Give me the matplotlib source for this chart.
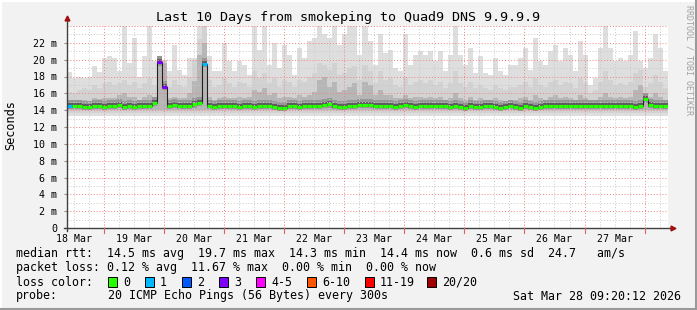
import numpy as np
import matplotlib as m

m.use('Agg')

import matplotlib.pyplot as plt
from matplotlib.patches import Rectangle
from matplotlib.lines import Line2D

# 2-hour blocks, 18 Mar 09:20 -> 28 Mar 09:20 (values in ms)
start_day = 9.0 / 24 + 20.0 / 1440
block_days = 2.0 / 24

smoke_top = [
  18.5, 17.8, 17.9, 17.8, 18.0, 19.2, 18.5, 20.2, 20.4, 20.2, 18.6, 24.5,
  19.6, 22.6, 18.0, 20.4, 24.5, 19.8, 19.8, 20.0, 18.6, 21.8, 18.8, 18.2,
  20.2, 20.2, 24.5, 24.5, 20.4, 18.6, 18.6, 22.0, 19.8, 18.6, 19.8, 19.4,
  18.2, 24.5, 21.2, 24.5, 19.4, 22.0, 19.0, 21.8, 20.6, 18.2, 21.4, 20.2,
  22.2, 22.6, 24.5, 23.0, 22.6, 24.5, 21.8, 23.0, 24.5, 24.5, 20.6, 24.5,
  22.2, 19.4, 23.0, 20.8, 21.2, 19.0, 18.6, 23.0, 19.4, 20.6, 21.0, 20.6,
  21.0, 19.8, 21.0, 18.6, 20.6, 24.5, 20.6, 19.4, 21.4, 18.4, 20.4, 18.4,
  18.2, 20.2, 18.6, 18.2, 19.4, 19.4, 20.2, 21.4, 18.8, 22.6, 19.8, 19.4,
  21.0, 21.8, 19.8, 21.4, 20.6, 18.6, 22.2, 20.6, 17.0, 17.8, 21.4, 24.5,
  21.4, 19.8, 20.2, 19.8, 20.6, 23.4, 19.8, 19.0, 20.2, 23.0, 21.4, 18.6,
]

smoke_upper = [
  16.2, 16.0, 16.4, 16.6, 16.4, 17.0, 16.6, 17.2, 17.4, 17.0, 17.2, 17.6,
  17.0, 17.4, 16.6, 17.2, 17.8, 17.0, 19.8, 20.0, 16.8, 17.6, 17.0, 16.8,
  18.0, 20.0, 22.5, 24.5, 17.6, 16.8, 17.0, 17.8, 17.2, 16.8, 17.4, 17.2,
  16.8, 18.6, 17.8, 18.4, 17.2, 17.8, 16.8, 17.6, 17.4, 16.8, 17.6, 17.4,
  18.0, 18.4, 19.6, 19.4, 18.8, 19.6, 18.2, 18.4, 19.0, 19.2, 17.6, 19.4,
  18.6, 17.2, 18.6, 17.6, 17.8, 17.0, 16.8, 18.0, 17.0, 17.4, 17.6, 17.2,
  17.6, 17.0, 17.4, 16.6, 17.2, 18.6, 17.2, 16.8, 17.4, 16.6, 17.0, 16.6,
  16.4, 17.0, 16.6, 16.4, 16.8, 16.8, 17.0, 17.4, 16.8, 17.8, 17.0, 16.8,
  17.4, 17.6, 17.0, 17.4, 17.2, 16.6, 17.8, 17.2, 16.0, 16.4, 17.4, 18.6,
  17.6, 17.0, 17.2, 17.0, 17.4, 18.4, 18.8, 16.8, 17.2, 18.2, 17.4, 16.6,
]

smoke_mid = [
  15.0, 15.0, 15.2, 15.2, 15.1, 15.4, 15.3, 15.4, 15.5, 15.4, 15.8, 16.0,
  15.6, 15.6, 15.2, 15.6, 15.8, 15.4, 19.8, 19.6, 15.4, 15.6, 15.4, 15.4,
  16.0, 17.5, 20.5, 22.0, 15.6, 15.2, 15.4, 15.6, 15.4, 15.4, 15.6, 15.4,
  15.6, 16.4, 16.2, 16.6, 15.8, 16.0, 15.4, 15.6, 15.6, 15.4, 15.8, 15.6,
  15.8, 16.2, 17.6, 18.0, 16.8, 17.4, 16.2, 16.4, 16.8, 17.2, 15.8, 17.4,
  17.0, 15.8, 16.4, 15.8, 15.8, 15.4, 15.4, 15.8, 15.4, 15.6, 15.6, 15.4,
  15.6, 15.4, 15.6, 15.2, 15.4, 16.0, 15.4, 15.2, 15.6, 15.2, 15.4, 15.2,
  15.2, 15.4, 15.2, 15.0, 15.2, 15.2, 15.4, 15.6, 15.2, 15.8, 15.4, 15.2,
  15.6, 15.8, 15.4, 15.6, 15.4, 15.2, 15.8, 15.4, 15.0, 15.2, 15.6, 16.0,
  15.6, 15.4, 15.6, 15.4, 15.6, 16.4, 17.0, 15.4, 15.6, 16.0, 15.6, 15.2,
]

median = [
  14.5, 14.5, 14.5, 14.4, 14.4, 14.5, 14.5, 14.4, 14.5, 14.5, 14.6, 14.4,
  14.5, 14.4, 14.5, 14.5, 14.5, 14.9, 19.7, 16.8, 14.5, 14.6, 14.5, 14.5,
  14.5, 14.7, 14.9, 19.5, 14.5, 14.4, 14.5, 14.5, 14.5, 14.5, 14.4, 14.5,
  14.5, 14.4, 14.5, 14.5, 14.5, 14.4, 14.3, 14.3, 14.5, 14.5, 14.4, 14.5,
  14.5, 14.5, 14.5, 14.6, 14.7, 14.5, 14.4, 14.4, 14.5, 14.5, 14.6, 14.6,
  14.6, 14.5, 14.5, 14.5, 14.5, 14.4, 14.5, 14.6, 14.5, 14.4, 14.5, 14.5,
  14.5, 14.5, 14.5, 14.5, 14.4, 14.5, 14.4, 14.3, 14.5, 14.4, 14.4, 14.5,
  14.5, 14.4, 14.3, 14.4, 14.5, 14.4, 14.3, 14.5, 14.4, 14.3, 14.4, 14.5,
  14.5, 14.5, 14.5, 14.5, 14.5, 14.5, 14.5, 14.5, 14.5, 14.5, 14.5, 14.5,
  14.5, 14.5, 14.5, 14.5, 14.5, 14.4, 14.5, 15.3, 14.6, 14.5, 14.5, 14.5,
]

# loss class per block (index into loss_labels)
loss = [0] * 120
loss[0] = 1
loss[18] = 3
loss[19] = 3
loss[27] = 1

smoke_floor = [13.3, 13.7, 14.0]

loss_labels = ['0', '1', '2', '3', '4-5', '6-10', '11-19', '20/20']
loss_colors = ['#26ff00', '#00b8ff', '#0059ff', '#7e00ff', '#ff00ff',
               '#ff5500', '#ff0000', '#a10000']

day_labels = ['18 Mar', '19 Mar', '20 Mar', '21 Mar', '22 Mar',
              '23 Mar', '24 Mar', '25 Mar', '26 Mar', '27 Mar']

legend_rtt = 'median rtt:  14.5 ms avg  19.7 ms max  14.3 ms min  14.4 ms now  0.6 ms sd  24.7   am/s'
legend_loss = 'packet loss: 0.12 % avg  11.67 % max  0.00 % min  0.00 % now'
probe_text = '20 ICMP Echo Pings (56 Bytes) every 300s'
stamp = 'Sat Mar 28 09:20:12 2026'

W, H = 697.0, 310.0
MONO = 'DejaVu Sans Mono'


def fx(px):
  return px / W


def fy(py):
  return 1 - py / H


def main():
  fig = plt.figure(figsize=(W / 100, H / 100), dpi=100, facecolor='#f2f2f2')
  ax = fig.add_axes([fx(67), fy(228), 601 / W, 202 / H])
  ax.set_facecolor('white')

  n = len(median)
  edges = start_day + np.arange(n + 1) * block_days

  def ext(a):
    a = np.asarray(a, dtype=float)
    return np.append(a, a[-1])

  med = np.asarray(median)
  bands = [
    (smoke_floor[0], smoke_top, '#dedede'),
    (smoke_floor[1], smoke_upper, '#d2d2d2'),
    (smoke_floor[2], smoke_mid, '#b6b6b6'),
  ]
  for lo, hi, col in bands:
    ax.fill_between(edges, lo, ext(hi), step='post', color=col, lw=0, zorder=1)
  # dark core round the median
  ax.fill_between(edges, ext(med - 0.4), ext(med + 0.7), step='post',
                  color='#969696', lw=0, zorder=1)
  ax.fill_between(edges, ext(med - 0.2), ext(med + 0.35), step='post',
                  color='#5e5e5e', lw=0, zorder=1)

  # grid
  for h in range(0, 11 * 24, 6):
    d = h / 24.0
    if d < start_day or d > start_day + 10:
      continue
    if h % 24 == 0:
      ax.axvline(d, color='#f08080', lw=0.7, ls=(0, (1, 2)), zorder=2)
    else:
      ax.axvline(d, color='#c8c8c8', lw=0.7, ls=(0, (1, 2)), zorder=2)
  for v in range(1, 25):
    if v % 2 == 0:
      ax.axhline(v, color='#f08080', lw=0.7, ls=(0, (1, 2)), zorder=2)
    else:
      ax.axhline(v, color='#c8c8c8', lw=0.7, ls=(0, (1, 2)), zorder=2)

  # median line: dark step, loss coloured segments on top
  ax.step(edges, ext(med), where='post', color='#202020', lw=0.8, zorder=3)
  lossa = np.asarray(loss)
  for k, col in enumerate(loss_colors):
    mk = lossa == k
    if mk.any():
      ax.hlines(med[mk], edges[:-1][mk], edges[1:][mk], colors=col, lw=2.2, zorder=4)

  ax.set_xlim(start_day, start_day + 10)
  ax.set_ylim(0, 24)

  ax.set_xticks([d + 0.5 for d in range(10)])
  ax.set_xticklabels(day_labels, family=MONO, fontsize=7.1)
  yt = list(range(0, 24, 2))
  ax.set_yticks(yt)
  ax.set_yticklabels(['0' if v == 0 else '%d m' % v for v in yt], family=MONO, fontsize=7.2)
  ax.tick_params(axis='x', length=0, pad=4)
  ax.tick_params(axis='y', length=2, pad=5, color='#909090')
  for s in ax.spines.values():
    s.set_visible(False)

  # axes with arrows
  ax.plot([-0.005, 1.009], [0, 0], transform=ax.transAxes, color='#404040', lw=1, clip_on=False, zorder=5)
  ax.plot([0, 0], [-0.015, 1.04], transform=ax.transAxes, color='#404040', lw=1, clip_on=False, zorder=5)
  ax.plot([1.009], [0], marker='>', ms=3.5, color='#a01010', transform=ax.transAxes, clip_on=False, zorder=6)
  ax.plot([0], [1.04], marker='^', ms=3.5, color='#a01010', transform=ax.transAxes, clip_on=False, zorder=6)
  for d in range(1, 11):
    ax.plot([d, d], [0, -0.6], color='#e06060', lw=0.8, clip_on=False, zorder=5)

  fig.text(fx(348), fy(18), 'Last 10 Days from smokeping to Quad9 DNS 9.9.9.9',
           family=MONO, fontsize=9.6, ha='center', va='center')
  fig.text(fx(11), fy(125), 'Seconds', family=MONO, fontsize=8.6,
           rotation=90, ha='center', va='center')
  fig.text(fx(689), fy(5), 'RRDTOOL / TOBI OETIKER', family=MONO, fontsize=6,
           rotation=270, ha='center', va='top', color='#a0a0a0')

  fs = 8.4
  fig.text(fx(16), fy(254), legend_rtt, family=MONO, fontsize=fs, va='center')
  fig.text(fx(16), fy(268), legend_loss, family=MONO, fontsize=fs, va='center')
  fig.text(fx(16), fy(282), 'loss color:', family=MONO, fontsize=fs, va='center')
  box_x = [108, 145, 182, 219, 256, 307, 365, 427]
  for bx, lab, col in zip(box_x, loss_labels, loss_colors):
    fig.patches.append(Rectangle((fx(bx), fy(287)), 9 / W, 10 / H, transform=fig.transFigure,
                                 facecolor=col, edgecolor='black', lw=0.7))
    fig.text(fx(bx + 15), fy(282), lab, family=MONO, fontsize=fs, va='center')
  fig.text(fx(16), fy(296), 'probe:', family=MONO, fontsize=fs, va='center')
  fig.text(fx(108), fy(296), probe_text, family=MONO, fontsize=fs, va='center')
  fig.text(fx(681), fy(296), stamp, family=MONO, fontsize=fs, va='center', ha='right')

  # 3d frame
  fig.lines.append(Line2D([0, 1], [fy(0.5), fy(0.5)], transform=fig.transFigure, color='#ffffff', lw=1.5))
  fig.lines.append(Line2D([fx(0.5), fx(0.5)], [0, 1], transform=fig.transFigure, color='#ffffff', lw=1.5))
  fig.lines.append(Line2D([0, 1], [fy(308.5), fy(308.5)], transform=fig.transFigure, color='#9a9a9a', lw=1.5))
  fig.lines.append(Line2D([fx(695.5), fx(695.5)], [0, 1], transform=fig.transFigure, color='#9a9a9a', lw=1.5))

  fig.savefig('out.png', dpi=100, facecolor=fig.get_facecolor())


if __name__ == '__main__':
  main()
